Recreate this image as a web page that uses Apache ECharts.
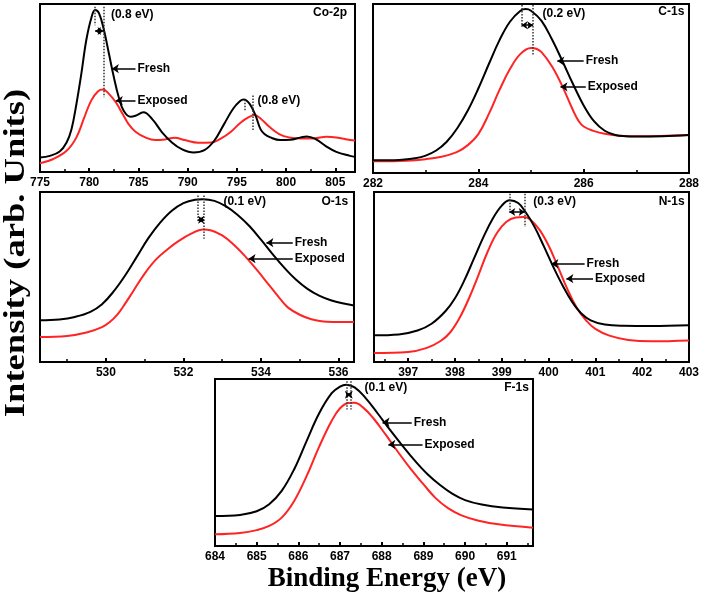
<!DOCTYPE html>
<html>
<head>
<meta charset="utf-8">
<script src="https://cdn.jsdelivr.net/npm/echarts@6/dist/echarts.min.js"></script>
<style>
html,body{margin:0;padding:0;background:#fff;}
#chart{width:702px;height:596px;}
</style>
</head>
<body>
<div id="chart"></div>
<script>
// ---------- DATA (binding energy eV, relative intensity 0-100 of panel height) ----------
const coTicks = [775, 780, 785, 790, 795, 800, 805];
const coMinor = [777.5, 782.5, 787.5, 792.5, 797.5, 802.5];
const coFresh = [[775,8.6],[776,9.6],[777,12.2],[777.7,17.6],[778.2,25.5],[778.7,40.5],[779.2,58.5],[779.7,78.4],[780.2,91.4],[780.6,96.4],[781,94.4],[781.5,84.4],[782,70.5],[782.5,56.5],[783,44.5],[783.5,36.5],[784.2,32.9],[784.7,33.5],[785.5,35.5],[786.4,31.5],[787.4,23.6],[788.4,17.6],[789.4,13.6],[790.6,11.6],[791.7,13],[792.7,18.6],[793.7,28.5],[794.6,37.5],[795.3,42.1],[795.7,43.1],[796.3,40.5],[796.9,33.5],[797.4,25.5],[797.8,22.6],[798.4,20.6],[799.4,19],[800.4,19.2],[801.5,20.6],[802.1,21.2],[803,19.6],[804,15.6],[805.1,12],[806.5,9.6],[807,9]];
const coExposed = [[775,5.2],[776.3,7.6],[777.7,12.6],[778.7,20.6],[779.5,32.5],[780.2,42.5],[780.9,48.1],[781.4,49.1],[782,46.5],[782.7,41.5],[783.4,34.5],[784,28.5],[784.7,24],[785.7,20.6],[786.7,19],[787.7,19.4],[788.7,20.4],[789.7,19],[791.1,17.4],[792.4,17.6],[793.4,20],[794.4,24],[795.4,29.5],[796.3,32.9],[796.8,33.9],[797.4,31.9],[798.3,26.9],[799.3,22.6],[800.3,20.6],[801.5,20],[802.8,20],[804.1,21],[805.1,20.6],[806.5,19],[807,18.8]];

const cTicks = [282, 284, 286, 288];
const cMinor = [283, 285, 287];
const cFresh = [[282,7.5],[282.2,7.5],[282.4,7.6],[282.6,8],[282.8,8.7],[283,10.3],[283.2,13.3],[283.4,18.5],[283.6,26.5],[283.8,37],[284,50],[284.2,64.5],[284.4,78.5],[284.6,89.5],[284.8,96],[284.9,97],[285,96],[285.2,90],[285.4,79],[285.6,66],[285.8,52.5],[286,40],[286.2,30.5],[286.4,25],[286.6,22.5],[286.8,21.8],[287,21.6],[287.5,21.8],[288,22.5]];
const cExposed = [[282,6.9],[282.5,7.1],[283,8.2],[283.3,9.6],[283.6,12.5],[283.8,16.5],[284,23],[284.2,35],[284.4,49],[284.6,61.5],[284.8,70.5],[285,74],[285.1,73.5],[285.2,71.5],[285.4,63],[285.6,51],[285.8,37],[285.9,31],[286,27.5],[286.2,24.8],[286.4,23.2],[286.7,22],[287,21.7],[288,22.5]];

const oTicks = [530, 532, 534, 536];
const oMinor = [529, 531, 533, 535];
const oFresh = [[528.3,24.5],[528.8,25],[529.2,26.5],[529.6,29.5],[529.9,34],[530.2,41.5],[530.5,51],[530.8,62],[531.1,73],[531.4,82],[531.7,89],[532,93.5],[532.3,95.5],[532.5,95.8],[532.8,94.8],[533.1,91.5],[533.4,86.5],[533.7,80],[534,72],[534.3,63.5],[534.6,55.5],[534.9,48.5],[535.2,43],[535.5,39],[535.8,36.3],[536.1,34.5],[536.4,33.3]];
const oExposed = [[528.3,14.7],[529,15.3],[529.5,17.3],[529.9,20.5],[530.1,23.5],[530.3,28],[530.5,34.5],[530.7,41.5],[531,52],[531.3,60.5],[531.6,66.5],[531.9,71.5],[532.2,75.5],[532.5,78],[532.7,77.5],[533,74.5],[533.3,69],[533.6,62],[533.9,54],[534.2,45.5],[534.5,37],[534.7,32],[535,27.8],[535.3,25.2],[535.7,23.7],[536.4,23.5]];

const nTicks = [397, 398, 399, 400, 401, 402, 403];
const nMinor = [396.5, 397.5, 398.5, 399.5, 400.5, 401.5, 402.5];
const nFresh = [[396.27,15.7],[396.8,16.2],[397.2,18.5],[397.5,22.5],[397.8,30],[398,37.5],[398.2,48],[398.4,60.5],[398.6,73],[398.8,84],[399,92],[399.17,95.1],[399.35,93.5],[399.5,88.5],[399.7,79.5],[399.9,68],[400.1,56],[400.3,45],[400.5,35.5],[400.7,28.5],[400.9,24.5],[401.2,22],[401.6,21.3],[402.2,21.2],[403,21.6]];
const nExposed = [[396.27,5.3],[397,5.9],[397.4,8.3],[397.7,12.5],[397.9,17.5],[398.1,26],[398.3,37.5],[398.5,51],[398.7,65],[398.9,76],[399.1,82.5],[399.3,85],[399.46,85.3],[399.6,84],[399.8,78],[400,68.5],[400.2,56],[400.4,43],[400.6,32],[400.8,24.5],[401,19.5],[401.3,15.5],[401.7,13],[402.2,12.2],[403,12.7]];

const fTicks = [684, 685, 686, 687, 688, 689, 690, 691];
const fMinor = [684.5, 685.5, 686.5, 687.5, 688.5, 689.5, 690.5, 691.5];
const fFresh = [[684,17.9],[684.6,18.6],[685,20.8],[685.3,25],[685.6,33],[685.9,46],[686.2,63],[686.5,79.5],[686.8,91.5],[687,95.5],[687.15,96.6],[687.35,95],[687.6,89],[687.9,79.5],[688.2,69.5],[688.5,60],[688.8,51],[689.1,43],[689.4,36.5],[689.7,31.2],[690,27.5],[690.4,24.8],[690.9,23],[691.63,21.9]];
const fExposed = [[684,7],[684.6,7.8],[685,9.5],[685.3,12],[685.6,17],[685.9,27],[686.2,42],[686.5,59.5],[686.8,75],[687,82.5],[687.2,85.7],[687.35,85.8],[687.55,83],[687.8,76.5],[688.1,66.5],[688.4,56],[688.7,46],[689,37],[689.3,28.5],[689.6,22.5],[689.9,18.5],[690.3,15.3],[690.8,13],[691.63,11]];

// ---------- LAYOUT / ANNOTATIONS ----------
const panels = [
  { title:'Co-2p', box:{left:40, top:4, width:315, height:168}, min:775, max:807,
    ticks:coTicks, minor:coMinor, fresh:coFresh, exposed:coExposed,
    vlines:[[780.6,98.4,87.4],[781.45,98.4,44.5],[795.75,43,36.5],[796.6,45.5,24.6]],
    darrows:[[780.6,781.45,84]],
    shifts:[[782.0,93.4,'(0.8 eV)'],[796.9,42.5,'(0.8 eV)']],
    fresh_ptr:[784.7,782.3,61.5], exp_ptr:[784.7,782.7,42.5], tpos:[806.4,94.8] },
  { title:'C-1s', box:{left:373, top:4, width:316, height:169}, min:282, max:288,
    ticks:cTicks, minor:cMinor, fresh:cFresh, exposed:cExposed,
    vlines:[[284.82,99.4,86.6],[285.04,99.4,69.8]],
    darrows:[[284.82,285.04,87.5]],
    shifts:[[285.18,94.1,'(0.2 eV)']],
    fresh_ptr:[286.0,285.5,66.2], exp_ptr:[286.04,285.56,51.0], tpos:[287.95,95.5] },
  { title:'O-1s', box:{left:40, top:192, width:314, height:170}, min:528.3, max:536.4,
    ticks:oTicks, minor:oMinor, fresh:oFresh, exposed:oExposed,
    vlines:[[532.38,98,82.4],[532.53,98,72.5]],
    darrows:[[532.38,532.53,83.7]],
    shifts:[[532.98,94.1,'(0.1 eV)']],
    fresh_ptr:[534.82,534.14,70.2], exp_ptr:[534.82,533.68,60.8], tpos:[536.3,94.1] },
  { title:'N-1s', box:{left:374, top:192, width:315, height:170}, min:396.27, max:403,
    ticks:nTicks, minor:nMinor, fresh:nFresh, exposed:nExposed,
    vlines:[[399.16,99,89.2],[399.49,99,79.4]],
    darrows:[[399.16,399.49,88.2]],
    shifts:[[399.63,94.1,'(0.3 eV)']],
    fresh_ptr:[400.77,400.06,57.8], exp_ptr:[400.95,400.38,49.0], tpos:[402.95,94.1] },
  { title:'F-1s', box:{left:215, top:379, width:318, height:167}, min:684, max:691.63,
    ticks:fTicks, minor:fMinor, fresh:fFresh, exposed:fExposed,
    vlines:[[687.16,98.6,81.7],[687.26,98.6,81.7]],
    darrows:[[687.16,687.26,90.6]],
    shifts:[[687.54,94.6,'(0.1 eV)']],
    fresh_ptr:[688.72,688.02,74.1], exp_ptr:[688.98,688.16,60.8], tpos:[691.58,94.6] }
];

const SANS = 'Liberation Sans, Arial, sans-serif';
const RED = '#ff2424';
const grids = [], xAxes = [], yAxes = [], series = [];

panels.forEach((p, i) => {
  grids.push(Object.assign({ show:true, borderColor:'#000', borderWidth:2, backgroundColor:'transparent' }, p.box));
  xAxes.push({
    type:'value', gridIndex:i, min:p.min, max:p.max, position:'bottom',
    axisLine:{ show:true, onZero:false, lineStyle:{ color:'#000', width:2 } },
    axisTick:{ show:true, inside:true, length:4, customValues:p.ticks, lineStyle:{ color:'#000', width:2 } },
    axisLabel:{ show:true, customValues:p.ticks, color:'#000', fontWeight:'bold', fontSize:12, fontFamily:SANS, margin:5 },
    splitLine:{ show:false }
  });
  xAxes.push({
    type:'value', gridIndex:i, min:p.min, max:p.max, position:'bottom',
    axisLine:{ show:false },
    axisTick:{ show:true, inside:true, length:3, customValues:p.minor, lineStyle:{ color:'#000', width:1.5 } },
    axisLabel:{ show:false },
    splitLine:{ show:false }
  });
  yAxes.push({ type:'value', gridIndex:i, min:0, max:100, show:false });

  const mlData = [];
  p.vlines.forEach(v => mlData.push([
    { coord:[v[0], v[1]], symbol:'none', lineStyle:{ type:'dotted', color:'#333', width:1.5 } },
    { coord:[v[0], v[2]], symbol:'none' }
  ]));
  p.darrows.forEach(a => mlData.push([
    { coord:[a[0], a[2]], symbol:'arrow', symbolSize:6, lineStyle:{ type:'solid', color:'#000', width:1.5 } },
    { coord:[a[1], a[2]], symbol:'arrow', symbolSize:6 }
  ]));
  [p.fresh_ptr, p.exp_ptr].forEach(a => mlData.push([
    { coord:[a[0], a[2]], symbol:'none', lineStyle:{ type:'solid', color:'#000', width:1.5 } },
    { coord:[a[1], a[2]], symbol:'arrow', symbolSize:7 }
  ]));

  const txt = (name, x, y, pos) => ({ name, coord:[x, y], label:{ position:pos } });
  const mpData = [];
  p.shifts.forEach(s => mpData.push(txt(s[2], s[0], s[1], 'right')));
  mpData.push(txt('Fresh', p.fresh_ptr[0], p.fresh_ptr[2], 'right'));
  mpData.push(txt('Exposed', p.exp_ptr[0], p.exp_ptr[2], 'right'));
  mpData.push(txt(p.title, p.tpos[0], p.tpos[1], 'left'));

  series.push({
    name:'Exposed', type:'line', xAxisIndex:2*i, yAxisIndex:i, data:p.exposed,
    smooth:0.4, symbol:'none', lineStyle:{ color:RED, width:2 }, z:2, silent:true
  });
  series.push({
    name:'Fresh', type:'line', xAxisIndex:2*i, yAxisIndex:i, data:p.fresh,
    smooth:0.4, symbol:'none', lineStyle:{ color:'#000', width:2 }, z:3, silent:true,
    markLine:{ silent:true, animation:false, label:{ show:false }, data:mlData },
    markPoint:{ silent:true, animation:false, symbol:'circle', symbolSize:0,
      itemStyle:{ color:'transparent' },
      label:{ show:true, formatter:'{b}', color:'#000', fontWeight:'bold', fontSize:12, fontFamily:SANS, distance:2 },
      data:mpData }
  });
});

const chart = echarts.init(document.getElementById('chart'), null, { renderer:'canvas' });
chart.setOption({
  backgroundColor:'#fff',
  animation:false,
  grid:grids, xAxis:xAxes, yAxis:yAxes, series:series,
  graphic:[
    { type:'text', x:16, y:253, rotation:Math.PI/2, scaleX:1.22,
      style:{ text:'Intensity (arb. Units)', font:'bold 30px "Liberation Serif", "Times New Roman", serif', fill:'#000', textAlign:'center', textVerticalAlign:'middle' } },
    { type:'text', x:387, y:579,
      style:{ text:'Binding Energy (eV)', font:'bold 27px "Liberation Serif", "Times New Roman", serif', fill:'#000', textAlign:'center', textVerticalAlign:'middle' } }
  ]
});
</script>
</body>
</html>
